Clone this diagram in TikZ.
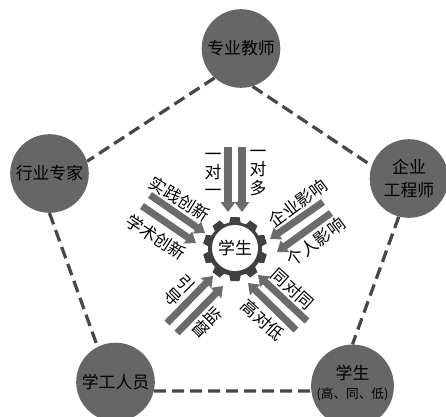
\documentclass[tikz,border=0pt]{standalone}
\usepackage{fontspec}
\setmainfont{Noto Sans CJK SC}
\usetikzlibrary{arrows.meta}
\definecolor{discgray}{gray}{0.40}
\definecolor{linegray}{gray}{0.28}
\definecolor{arrowgray}{gray}{0.42}
\definecolor{geargray}{gray}{0.25}
\tikzset{
  role/.style={circle,fill=discgray,draw=none,minimum size=1.965cm,inner sep=0pt,align=center,font=\fontsize{12}{16.5}\selectfont},
  link/.style={draw=linegray,line width=2.3pt,dash pattern=on 8.5pt off 4.3pt},
  flow/.style={draw=arrowgray,line width=5pt,-{Triangle[width=10pt,length=7pt]}},
  note/.style={font=\fontsize{12}{13}\selectfont,inner sep=0pt,align=center}
}
\begin{document}
\begin{tikzpicture}[x=0.025cm,y=-0.025cm]
  \useasboundingbox (0,0) rectangle (446,416);

  \begin{scope}[every node/.style={role}]
    \node (teacher) at (241,48.5)  {专业教师};
    \node (expert)  at (49.5,173.5)  {行业专家};
    \node (company) at (409,178.5) {企业\\工程师};
    \node (staff)   at (115.5,382) {学工人员};
    \node (student) at (352.5,386) {学生\\[-3pt]{\fontsize{9}{10}\selectfont (高、同、低)}\rule[-6pt]{0pt}{6pt}};
  \end{scope}

  \path[link] (teacher.228) -- (expert.18);
  \path[link] (teacher.-73) -- (company.161);
  \path[link] (company.-105) -- (student.90);
  \path[link] (expert.-90) -- (staff.117);
  \path[link] (staff.-13) -- (student.187);

  % gear
  \fill[geargray] (235,249) circle (27);
  \foreach \a in {90,126,...,414}
    \fill[geargray,rotate around={\a:(235,249)}] (260,243) -- (267,244.5) -- (267,253.5) -- (260,255) -- cycle;
  \node[circle,fill=white,minimum size=1.15cm,inner sep=0pt,font=\fontsize{12}{14}\selectfont] (core) at (235,248) {学生};

  \begin{scope}[every node/.style={coordinate}]
    \node (a1) at (228,147) {}; \node (b1) at (228,212) {};
    \node (a2) at (242,147) {}; \node (b2) at (242,212) {};
    \node (a3) at (150,195) {}; \node (b3) at (205,233) {};
    \node (a4) at (142,206) {}; \node (b4) at (196,243) {};
    \node (a5) at (323,202) {}; \node (b5) at (270,239) {};
    \node (a6) at (331,213) {}; \node (b6) at (277,252) {};
    \node (a7) at (307,321) {}; \node (b7) at (258,275) {};
    \node (a8) at (296,330) {}; \node (b8) at (248,283) {};
    \node (a9) at (167,323) {}; \node (b9) at (213,276) {};
    \node (a10) at (177,333) {}; \node (b10) at (223,286) {};
  \end{scope}
  \foreach \n in {1,...,10}
    \path[flow] (a\n) -- (b\n);

  \begin{scope}[every node/.style={note}]
    \node (t1) at (213,175) {一\\对\\一};
    \node (t2) at (258,173) {一\\对\\多};
    \node[rotate=-32] (t3) at (180,199) {实践创新};
    \node[rotate=-33] (t4) at (156,237) {学术创新};
    \node[rotate=37]  (t5) at (298,203) {企业影响};
    \node[rotate=37]  (t6) at (316,242) {个人影响};
    \node[rotate=-45] (t7) at (179,290) {引\\导};
    \node[rotate=-45] (t8) at (207,322) {监\\督};
    \node[rotate=-42] (t9) at (293,289) {同对同};
    \node[rotate=-42] (t10) at (263,320) {高对低};
  \end{scope}
\end{tikzpicture}
\end{document}
